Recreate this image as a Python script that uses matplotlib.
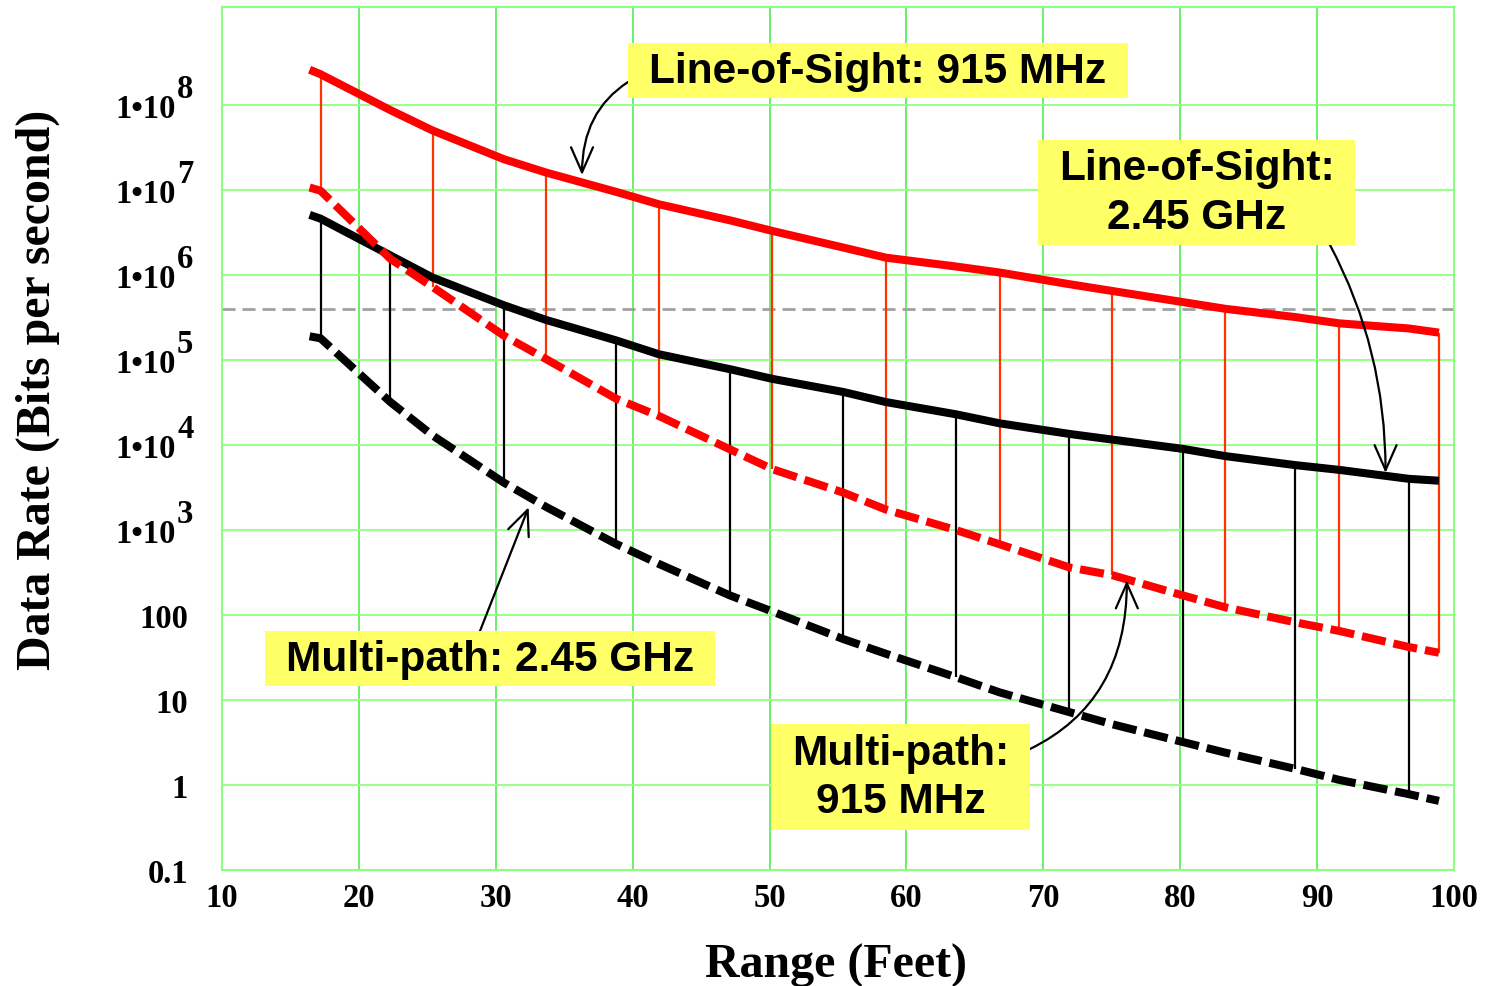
import numpy as np
import matplotlib.pyplot as plt
from matplotlib.patches import Rectangle
from matplotlib.ticker import NullLocator

# range in feet, shared by all four curves
range_ft = [16.4, 17.2, 22.3, 25.4, 30.6, 33.7, 38.8, 41.9, 47.1, 50.2, 55.4,
            58.5, 63.6, 66.8, 71.9, 75.0, 80.2, 83.3, 88.4, 91.6, 96.7, 98.9]

# data rate (bits per second)
los_915 = [2.6e8, 2.3e8, 8.7e7, 5.0e7, 2.3e7, 1.6e7, 9.5e6, 6.8e6, 4.4e6, 3.3e6, 2.1e6,
           1.6e6, 1.26e6, 1.07e6, 7.8e5, 6.5e5, 4.8e5, 4.0e5, 3.2e5, 2.7e5, 2.35e5, 2.1e5]
los_245 = [5.1e6, 4.6e6, 1.7e6, 9.3e5, 4.4e5, 2.95e5, 1.7e5, 1.17e5, 7.8e4, 6.0e4, 4.2e4,
           3.2e4, 2.3e4, 1.8e4, 1.35e4, 1.16e4, 9.0e3, 7.4e3, 5.8e3, 5.1e3, 4.0e3, 3.8e3]
mp_915 = [1.07e7, 9.8e6, 1.55e6, 7.2e5, 1.93e5, 1.02e5, 3.5e4, 2.2e4, 8.9e3, 5.2e3, 2.75e3,
          1.74e3, 1.0e3, 680, 363, 295, 170, 123, 82, 65, 42, 36]
mp_245 = [1.9e5, 1.8e5, 3.2e4, 1.29e4, 3.6e3, 1.86e3, 684, 400, 170, 110, 52,
          35, 18.6, 12.3, 7.2, 5.2, 3.2, 2.4, 1.55, 1.15, 0.78, 0.65]

# which points get a vertical bar between line-of-sight and multi-path
red_bars = [1, 3, 5, 7, 9, 11, 13, 15, 17, 19, 21]
black_bars = [1, 2, 4, 6, 8, 10, 12, 14, 16, 18, 20]

threshold = 4.0e5

x_ticks = [10, 20, 30, 40, 50, 60, 70, 80, 90, 100]
y_ticks = [0.1, 1, 10, 100, 1e3, 1e4, 1e5, 1e6, 1e7, 1e8]

labels = ["Line-of-Sight: 915 MHz", "Line-of-Sight:\n2.45 GHz",
          "Multi-path: 2.45 GHz", "Multi-path:\n915 MHz"]
# arrow tips (range, rate)
tip_x = [36.3, 95.0, 32.4, 76.1]
tip_y = [1.5e7, 4.7e3, 1.85e3, 254]

SERIF = "Liberation Serif"
SANS = "Liberation Sans"
W, H = 1491, 987

fig = plt.figure(figsize=(W / 100, H / 100), dpi=100)
ax = fig.add_axes([222 / W, 1 - 871 / H, 1232 / W, 863 / H])
ax.set_yscale("log")
ax.set_xlim(10, 100)
ax.set_ylim(0.1, 10 ** (8 + 98 / 85))

# grid
ax.set_xticks(x_ticks)
ax.set_yticks(y_ticks)
ax.yaxis.set_minor_locator(NullLocator())
ax.set_yticklabels([])
ax.xaxis.grid(True, color="#5ef05e", lw=1.3, zorder=0)
ax.yaxis.grid(True, color="#9cff8c", lw=1.5, zorder=0)
ax.set_axisbelow(True)
for s in ax.spines.values():
    s.set_color("#8cff80")
    s.set_linewidth(1.5)
ax.tick_params(length=0, pad=8.5)
for t in ax.get_xticklabels():
    t.set_fontfamily(SERIF)
    t.set_fontweight("bold")
    t.set_fontsize(23.5)

# y tick labels drawn by hand so the exponent sits full size
for v in y_ticks:
    if v < 1000:
        ax.annotate(f"{v:g}", xy=(0, v), xycoords=("axes fraction", "data"),
                    xytext=(-34, -12), textcoords="offset pixels", ha="right",
                    va="baseline", fontsize=23.5, fontweight="bold", family=SERIF,
                    annotation_clip=False)
    else:
        e = int(round(np.log10(v)))
        ax.annotate("1\u202210", xy=(0, v), xycoords=("axes fraction", "data"),
                    xytext=(-46, -12), textcoords="offset pixels", ha="right",
                    va="baseline", fontsize=23.5, fontweight="bold", family=SERIF,
                    annotation_clip=False)
        ax.annotate(str(e), xy=(0, v), xycoords=("axes fraction", "data"),
                    xytext=(-45, 8), textcoords="offset pixels", ha="left",
                    va="baseline", fontsize=23.5, fontweight="bold", family=SERIF,
                    annotation_clip=False)

ax.axhline(threshold, color="#a0a0a0", lw=2, dashes=(4.7, 2.5), zorder=1)

x = np.array(range_ft)
ax.vlines(x[red_bars], np.array(mp_915)[red_bars], np.array(los_915)[red_bars],
          color="#ff3300", lw=1.6, zorder=2)
ax.vlines(x[black_bars], np.array(mp_245)[black_bars], np.array(los_245)[black_bars],
          color="black", lw=1.6, zorder=2)

ax.plot(range_ft, los_915, color="red", lw=5.8, solid_capstyle="butt", zorder=3)
ax.plot(range_ft, los_245, color="black", lw=5.8, solid_capstyle="butt", zorder=3)
ax.plot(range_ft, mp_915, color="red", lw=5.8, dashes=(3.0, 1.0),
        dash_capstyle="butt", zorder=3)
ax.plot(range_ft, mp_245, color="black", lw=5.8, dashes=(3.0, 1.0),
        dash_capstyle="butt", zorder=3)

ax.set_xlabel("Range (Feet)", fontsize=34.5, fontweight="bold", family=SERIF, va="baseline")
ax.xaxis.set_label_coords(0.4985, (871 - 978) / 863)
ax.set_ylabel("Data Rate (Bits per second)", fontsize=34.5, fontweight="bold",
              family=SERIF, va="baseline")
ax.yaxis.set_label_coords((50 - 222) / 1232, (871 - 390) / 863)

# yellow callout boxes (pixel box: left, top, right, bottom) and arrow starts
boxes = [(628, 44, 1128, 99), (1038, 141, 1355, 246),
         (265, 632, 715, 687), (771, 725, 1030, 831)]
starts = [(628, 83), (1330, 246), (480, 632), (1030, 750)]
curves = ["angle3,angleA=-147,angleB=90", "angle3,angleA=-62,angleB=90",
          "arc3,rad=0", "angle3,angleA=26,angleB=90"]

for lab, (l, t, r, b), (sx, sy), cs, tx, ty in zip(labels, boxes, starts, curves, tip_x, tip_y):
    fig.add_artist(Rectangle((l / W, 1 - b / H), (r - l) / W, (b - t) / H,
                             transform=fig.transFigure, facecolor="#ffff66",
                             edgecolor="none", zorder=5))
    fig.text((l + r) / 2 / W, 1 - (t + b) / 2 / H, lab, ha="center", va="center",
             fontsize=30.5, fontweight="bold", family=SANS, linespacing=1.28, zorder=6)
    ax.annotate("", xy=(tx, ty), xycoords="data", xytext=(sx / W, 1 - sy / H),
                textcoords="figure fraction",
                arrowprops=dict(arrowstyle="->,head_length=0.5,head_width=0.22",
                                mutation_scale=36, connectionstyle=cs, color="black",
                                lw=1.6, shrinkA=0, shrinkB=0),
                zorder=6)

fig.savefig("out.png", dpi=100)
